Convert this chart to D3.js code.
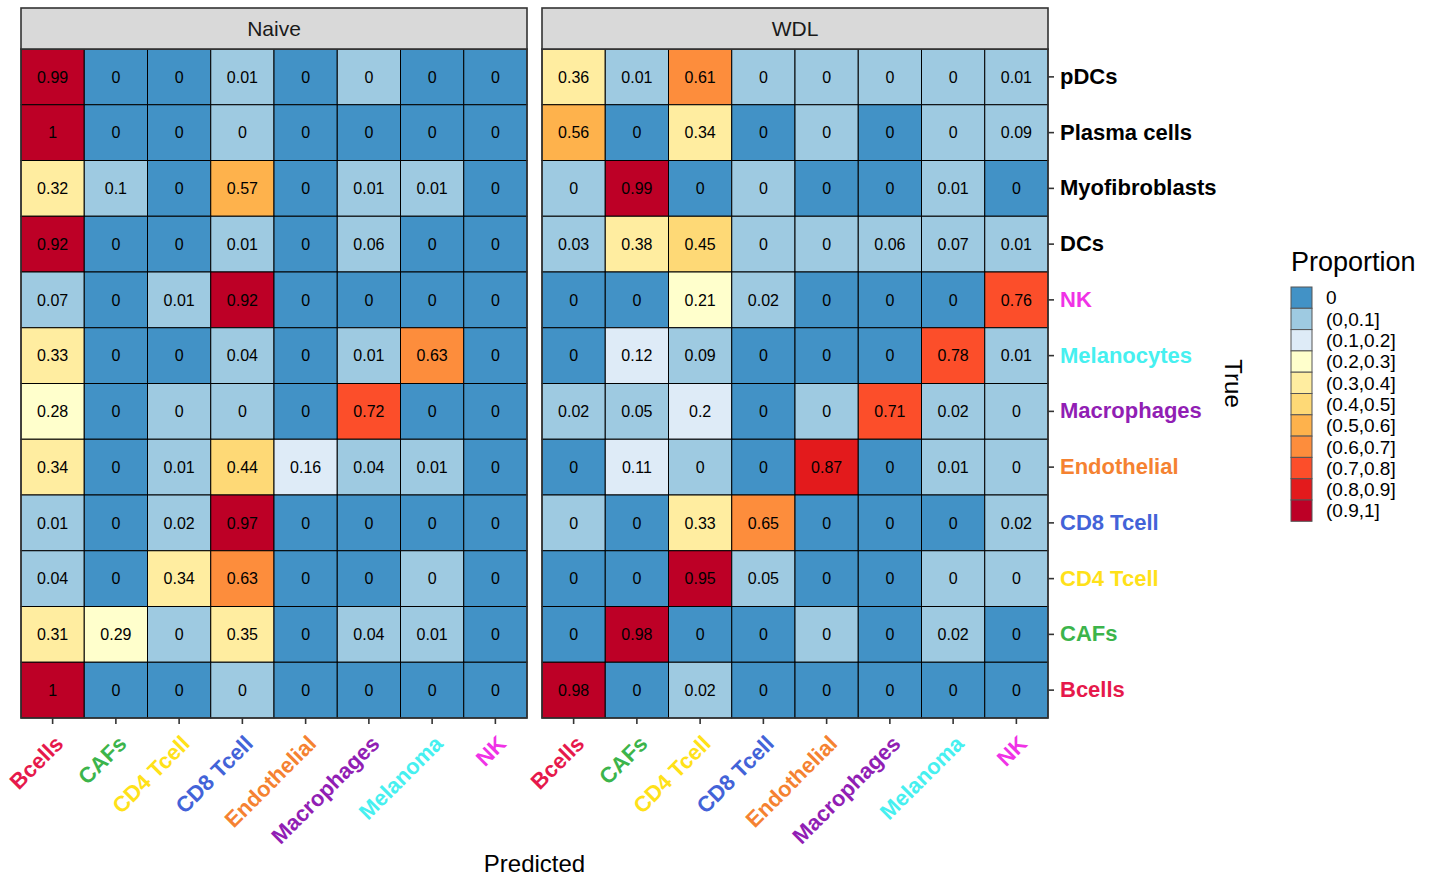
<!DOCTYPE html>
<html>
<head>
<meta charset="utf-8">
<script src="https://cdn.jsdelivr.net/npm/d3@7"></script>
<style>
  html, body { margin: 0; padding: 0; background: #fff; }
  svg { display: block; font-family: "Liberation Sans", Arial, Helvetica, sans-serif; }
</style>
</head>
<body>
<svg id="chart" width="1435" height="878"></svg>
<script>
// Predicted cell types (columns) and true cell types (rows, top to bottom)
const predicted = ["Bcells", "CAFs", "CD4 Tcell", "CD8 Tcell", "Endothelial", "Macrophages", "Melanoma", "NK"];
const trueTypes = ["pDCs", "Plasma cells", "Myofibroblasts", "DCs", "NK", "Melanocytes",
                   "Macrophages", "Endothelial", "CD8 Tcell", "CD4 Tcell", "CAFs", "Bcells"];
const panels = ["Naive", "WDL"];

// Proportions per true type (rows) and predicted type (columns).
// Tiny non-zero proportions (shown as "0" once rounded) are kept as 0.001.
const naiveValues = [
  [0.99, 0, 0, 0.01, 0, 0.001, 0, 0],
  [1, 0, 0, 0.001, 0, 0, 0, 0],
  [0.32, 0.1, 0, 0.57, 0, 0.01, 0.01, 0],
  [0.92, 0, 0, 0.01, 0, 0.06, 0, 0],
  [0.07, 0, 0.01, 0.92, 0, 0, 0, 0],
  [0.33, 0, 0, 0.04, 0, 0.01, 0.63, 0],
  [0.28, 0, 0.001, 0.001, 0, 0.72, 0, 0],
  [0.34, 0, 0.01, 0.44, 0.16, 0.04, 0.01, 0],
  [0.01, 0, 0.02, 0.97, 0, 0, 0, 0],
  [0.04, 0, 0.34, 0.63, 0, 0, 0.001, 0],
  [0.31, 0.29, 0.001, 0.35, 0, 0.04, 0.01, 0],
  [1, 0, 0, 0.001, 0, 0, 0, 0]
];
const wdlValues = [
  [0.36, 0.01, 0.61, 0.001, 0.001, 0.001, 0.001, 0.01],
  [0.56, 0, 0.34, 0, 0.001, 0, 0.001, 0.09],
  [0.001, 0.99, 0, 0.001, 0, 0, 0.01, 0],
  [0.03, 0.38, 0.45, 0.001, 0.001, 0.06, 0.07, 0.01],
  [0, 0, 0.21, 0.02, 0, 0, 0, 0.76],
  [0, 0.12, 0.09, 0, 0, 0, 0.78, 0.01],
  [0.02, 0.05, 0.2, 0, 0.001, 0.71, 0.02, 0.001],
  [0, 0.11, 0.001, 0, 0.87, 0, 0.01, 0.001],
  [0.001, 0, 0.33, 0.65, 0, 0, 0, 0.02],
  [0, 0, 0.95, 0.05, 0, 0, 0.001, 0.001],
  [0, 0.98, 0, 0, 0.001, 0, 0.02, 0],
  [0.98, 0, 0.02, 0, 0, 0, 0, 0]
];

// Binned legend
const binLabels = ["0", "(0,0.1]", "(0.1,0.2]", "(0.2,0.3]", "(0.3,0.4]", "(0.4,0.5]",
                   "(0.5,0.6]", "(0.6,0.7]", "(0.7,0.8]", "(0.8,0.9]", "(0.9,1]"];
const binColors = ["#4292c6", "#9ecae1", "#deebf7", "#ffffcc", "#ffeda0", "#fed976",
                   "#feb24c", "#fd8d3c", "#fc4e2a", "#e31a1c", "#bd0026"];

// Label colours per cell type
const typeColors = {
  "Bcells": "#e6194b", "CAFs": "#3cb44b", "CD4 Tcell": "#ffe119", "CD8 Tcell": "#4363d8",
  "Endothelial": "#f58231", "Macrophages": "#911eb4", "Melanoma": "#46f0f0",
  "Melanocytes": "#46f0f0", "NK": "#f032e6"
};

const svg = d3.select("#chart");

const panelX = [21, 542];
const panelW = 506;
const stripTop = 8, stripH = 41;
const plotTop = stripTop + stripH, plotBottom = 718;

// right-closed bins: 0 | (0,0.1] | ... | (0.9,1]
const eps = 1e-9;
const color = d3.scaleThreshold()
  .domain(d3.range(0, 10).map(i => i / 10 + eps))
  .range(binColors);

const y = d3.scaleBand().domain(trueTypes).range([plotTop, plotBottom]);
const fmt = v => String(+v.toFixed(2));

const allValues = [naiveValues, wdlValues];

panels.forEach((name, p) => {
  const x = d3.scaleBand().domain(predicted).range([panelX[p], panelX[p] + panelW]);
  const g = svg.append("g");

  const cells = [];
  trueTypes.forEach((t, i) => predicted.forEach((c, j) =>
    cells.push({ t, c, v: allValues[p][i][j] })));

  g.selectAll("rect.cell").data(cells).join("rect")
    .attr("class", "cell")
    .attr("x", d => x(d.c)).attr("y", d => y(d.t))
    .attr("width", x.bandwidth()).attr("height", y.bandwidth())
    .attr("fill", d => color(d.v))
    .attr("stroke", "#000").attr("stroke-width", 1);

  g.selectAll("text.val").data(cells).join("text")
    .attr("class", "val")
    .attr("x", d => x(d.c) + x.bandwidth() / 2)
    .attr("y", d => y(d.t) + y.bandwidth() / 2)
    .attr("text-anchor", "middle").attr("dy", "0.36em")
    .attr("font-size", 16).attr("fill", "#000")
    .text(d => fmt(d.v));

  // panel border
  g.append("rect")
    .attr("x", panelX[p]).attr("y", plotTop)
    .attr("width", panelW).attr("height", plotBottom - plotTop)
    .attr("fill", "none").attr("stroke", "#333").attr("stroke-width", 1.6);

  // facet strip
  g.append("rect")
    .attr("x", panelX[p]).attr("y", stripTop)
    .attr("width", panelW).attr("height", stripH)
    .attr("fill", "#d9d9d9").attr("stroke", "#333").attr("stroke-width", 1.6);
  g.append("text")
    .attr("x", panelX[p] + panelW / 2).attr("y", stripTop + stripH / 2)
    .attr("dy", "0.36em").attr("text-anchor", "middle")
    .attr("font-size", 21).attr("fill", "#1a1a1a")
    .text(name);

  // bottom axis with rotated coloured labels
  const ax = g.append("g").attr("transform", `translate(0,${plotBottom})`)
    .call(d3.axisBottom(x).tickSize(6).tickPadding(0));
  ax.select(".domain").remove();
  ax.selectAll(".tick line").attr("stroke", "#333").attr("stroke-width", 1.6);
  ax.selectAll(".tick text")
    .attr("font-size", 22).attr("font-weight", "bold")
    .attr("fill", d => typeColors[d] || "#000")
    .attr("text-anchor", "end")
    .attr("y", 0).attr("dy", 0)
    .attr("transform", "translate(12,27) rotate(-45)");

  // right axis on the last panel
  if (p === panels.length - 1) {
    const ay = g.append("g").attr("transform", `translate(${panelX[p] + panelW},0)`)
      .call(d3.axisRight(y).tickSize(6).tickPadding(6));
    ay.select(".domain").remove();
    ay.selectAll(".tick line").attr("stroke", "#333").attr("stroke-width", 1.6);
    ay.selectAll(".tick text")
      .attr("font-size", 22).attr("font-weight", "bold")
      .attr("fill", d => typeColors[d] || "#000");
  }
});

// axis titles
svg.append("text")
  .attr("x", (panelX[0] + panelX[1] + panelW) / 2).attr("y", 872)
  .attr("text-anchor", "middle").attr("font-size", 24).attr("fill", "#000")
  .text("Predicted");
svg.append("text")
  .attr("transform", `translate(1225,${(plotTop + plotBottom) / 2}) rotate(90)`)
  .attr("text-anchor", "middle").attr("font-size", 24).attr("fill", "#000")
  .text("True");

// legend
const legend = svg.append("g").attr("transform", "translate(1291,0)");
legend.append("text").attr("x", 0).attr("y", 271)
  .attr("font-size", 27).attr("fill", "#000").text("Proportion");
const keyH = 21.3, keyTop = 287;
const ly = d3.scaleBand().domain(binLabels).range([keyTop, keyTop + keyH * binLabels.length]);
legend.selectAll("rect.key").data(binLabels).join("rect")
  .attr("class", "key")
  .attr("x", 0).attr("y", d => ly(d))
  .attr("width", 21).attr("height", ly.bandwidth())
  .attr("fill", (d, i) => binColors[i])
  .attr("stroke", "#555").attr("stroke-width", 1);
legend.selectAll("text.key").data(binLabels).join("text")
  .attr("class", "key")
  .attr("x", 35).attr("y", d => ly(d) + ly.bandwidth() / 2)
  .attr("dy", "0.36em").attr("font-size", 19).attr("fill", "#000")
  .text(d => d);
</script>
</body>
</html>
